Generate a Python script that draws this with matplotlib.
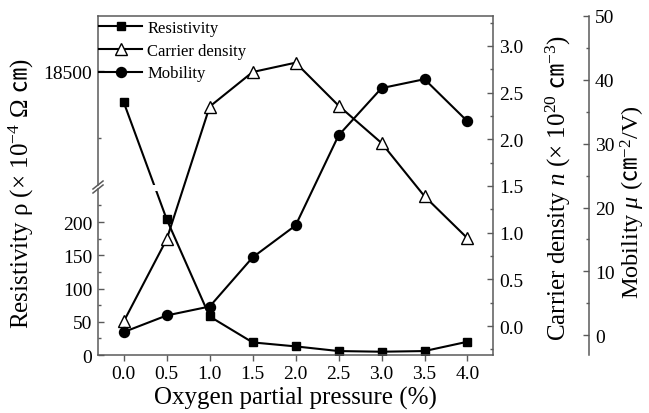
import numpy as np
import matplotlib
matplotlib.use('Agg')
import matplotlib.pyplot as plt
from matplotlib.patches import Rectangle
from matplotlib.ticker import FixedLocator, MultipleLocator, FuncFormatter

plt.rcParams['font.family'] = ['Liberation Serif', 'DejaVu Serif', 'Noto Sans CJK SC']
plt.rcParams['mathtext.fontset'] = 'custom'
plt.rcParams['mathtext.rm'] = 'Liberation Serif'
plt.rcParams['mathtext.it'] = 'Liberation Serif:italic'
plt.rcParams['mathtext.sf'] = 'Noto Sans CJK SC'

# data
pressure = [0.0, 0.5, 1.0, 1.5, 2.0, 2.5, 3.0, 3.5, 4.0]
resistivity = [18453, 204, 58, 19, 13, 6, 5, 6, 20]          # x1e-4 ohm cm
carrier = [0.05, 0.93, 2.35, 2.72, 2.82, 2.36, 1.96, 1.39, 0.94]  # x1e20 cm-3
mobility = [0.5, 3.1, 4.5, 12.2, 17.2, 31.3, 38.7, 40.1, 33.5]   # cm2/Vs

res_major = [0, 50, 100, 150, 200, 18500]
res_minor = [25, 75, 125, 175, 225, 18400]
labels = ['Resistivity', 'Carrier density', 'Mobility']

# broken left axis: 0..low_top shown as is, upper part shifted down
low_top = 253
shift = 18073


def fwd(v):
    v = np.asarray(v, float)
    return np.where(v <= low_top, v, np.where(v >= low_top + shift, v - shift, low_top))


def inv(p):
    p = np.asarray(p, float)
    return np.where(p <= low_top, p, p + shift)


spine_c = '#5a5a5a'
lw = 1.5

fig = plt.figure(figsize=(6.49, 4.14), dpi=100)
ax = fig.add_axes([0.151, 0.140, 0.609, 0.819])
ax2 = ax.twinx()
ax3 = ax.twinx()

ax.set_yscale('function', functions=(fwd, inv))
ax.set_xlim(-0.3, 4.3)
ax.set_ylim(0, 18583)
ax2.set_ylim(-0.31, 3.32)
ax3.set_ylim(-3.1, 50)

# resistivity drawn twice, each clipped to one side of the break
res_lo, = ax.plot(pressure, resistivity, color='k', lw=lw, marker='s', ms=6)
res_hi, = ax.plot(pressure, resistivity, color='k', lw=lw, marker='s', ms=6)
res_lo.set_clip_path(Rectangle((0, 0), 1, 0.483, transform=ax.transAxes))
res_hi.set_clip_path(Rectangle((0, 0.501), 1, 0.499, transform=ax.transAxes))

car, = ax2.plot(pressure, carrier, color='k', lw=lw, marker='^', ms=8,
                mfc='white', mec='k', mew=1.0)
mob, = ax3.plot(pressure, mobility, color='k', lw=lw, marker='o', ms=7.2)

# spines
for s in ['left', 'right']:
    ax.spines[s].set_visible(False)
for s in ['top', 'bottom']:
    ax.spines[s].set_color(spine_c)
    ax.spines[s].set_linewidth(1.1)
for s in ['left', 'top', 'bottom']:
    ax2.spines[s].set_visible(False)
    ax3.spines[s].set_visible(False)
ax2.spines['right'].set_color(spine_c)
ax2.spines['right'].set_linewidth(1.1)
ax3.spines['right'].set_position(('axes', 1.243))
ax3.spines['right'].set_color(spine_c)
ax3.spines['right'].set_linewidth(1.1)

# left spine with break marks
yb = 0.4956
dy = 0.0059
kw = dict(transform=ax.transAxes, color=spine_c, lw=1.1, clip_on=False)
ax.plot([0, 0], [0, yb - dy], **kw)
ax.plot([0, 0], [yb + dy, 1], **kw)
for c in (yb - dy, yb + dy):
    ax.plot([-0.0127, 0.0127], [c - 0.0118, c + 0.0118], **kw)

# ticks
ax.yaxis.set_major_locator(FixedLocator(res_major))
ax.yaxis.set_minor_locator(FixedLocator(res_minor))
ax.yaxis.set_major_formatter(FuncFormatter(lambda v, p: f'{v:.0f}'))
ax.xaxis.set_major_locator(MultipleLocator(0.5))
ax.xaxis.set_major_formatter(FuncFormatter(lambda v, p: f'{v:.1f}'))
ax.tick_params(axis='y', which='major', direction='in', length=4, width=1,
               color=spine_c, labelsize=14, pad=4)
ax.tick_params(axis='y', which='minor', direction='in', length=2.5, width=1,
               color=spine_c)
ax.tick_params(axis='x', which='major', direction='out', length=4, width=1,
               color=spine_c, labelsize=14, pad=3)

ax2.yaxis.set_major_locator(MultipleLocator(0.5))
ax2.yaxis.set_minor_locator(MultipleLocator(0.25))
ax2.yaxis.set_major_formatter(FuncFormatter(lambda v, p: f'{v:.1f}'))
ax3.yaxis.set_major_locator(MultipleLocator(10))
ax3.yaxis.set_minor_locator(MultipleLocator(5))
for a in (ax2, ax3):
    a.tick_params(axis='y', which='major', direction='in', length=4, width=1,
                  color=spine_c, labelsize=14, pad=4)
    a.tick_params(axis='y', which='minor', direction='in', length=2.5, width=1,
                  color=spine_c)

# axis labels
ax.set_xlabel('Oxygen partial pressure (%)', fontsize=18)
ax.xaxis.set_label_coords(0.5, -0.09)
ax.set_ylabel(r'Resistivity ρ (× 10$^{-4}$ Ω $\mathsf{㎝}$)', fontsize=18)
ax.yaxis.set_label_coords(-0.157, 0.478)
ax2.set_ylabel(r'Carrier density $n$ (× 10$^{20}$ $\mathsf{㎝}^{-3}$)', fontsize=18)
ax2.yaxis.set_label_coords(1.128, 0.496)
ax3.set_ylabel(r'Mobility $\mu$ ($\mathsf{㎝}^{-2}$/V)', fontsize=17.5)
ax3.yaxis.set_label_coords(1.318, 0.454)

ax3.legend([res_lo, car, mob], labels, loc='upper left', bbox_to_anchor=(-0.008, 1),
           borderaxespad=0, borderpad=0.25, frameon=False, fontsize=12,
           handlelength=2.6, handletextpad=0.3, labelspacing=0.4)

fig.savefig('out.png', dpi=100)
